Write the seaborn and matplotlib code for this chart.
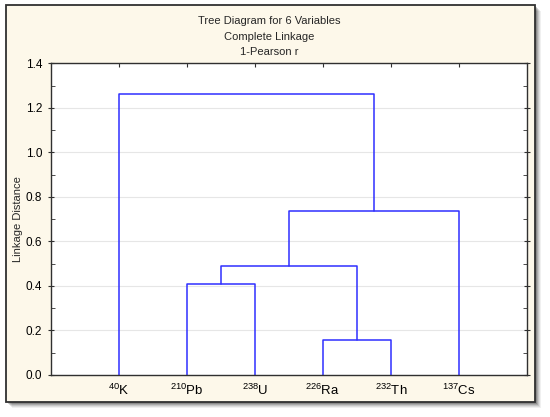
import numpy as np
import pandas as pd
import seaborn as sns
import matplotlib.pyplot as plt
from matplotlib.patches import Rectangle
from matplotlib.ticker import MultipleLocator, FormatStrFormatter

# leaves in the order shown on the x axis
leaf_labels = [r'$^{\mathregular{40}}$K', r'$^{\mathregular{210}}$Pb', r'$^{\mathregular{238}}$U',
               r'$^{\mathregular{226}}$Ra', r'$^{\mathregular{232}}$Th', r'$^{\mathregular{137}}$Cs']

# merge steps (scipy style ids: leaves 0-5, new clusters from 6)
merge_a = [3, 1, 7, 8, 0]
merge_b = [4, 2, 6, 5, 9]
merge_h = [0.157, 0.408, 0.488, 0.738, 1.263]

sns.set_style("white")
plt.rcParams['font.family'] = ['Liberation Sans', 'DejaVu Sans']
plt.rcParams['mathtext.fontset'] = 'custom'
plt.rcParams['mathtext.rm'] = 'Liberation Sans'

# positions/heights of every cluster
xpos = {i: i + 1.0 for i in range(len(leaf_labels))}
hgt = {i: 0.0 for i in range(len(leaf_labels))}
rows = []
for k, (a, b, h) in enumerate(zip(merge_a, merge_b, merge_h)):
    new_id = len(leaf_labels) + k
    for px, py in [(xpos[a], hgt[a]), (xpos[a], h), (xpos[b], h), (xpos[b], hgt[b])]:
        rows.append({'link': k, 'x': px, 'y': py})
    xpos[new_id] = (xpos[a] + xpos[b]) / 2
    hgt[new_id] = h
df = pd.DataFrame(rows)

fig = plt.figure(figsize=(5.5, 4.17), dpi=100, facecolor='white')

# frame with drop shadow
W, H = 550, 417
fx0, fy0, fx1, fy1 = 6, 5, 535, 402
for off, al in [(6, 0.06), (5, 0.08), (4, 0.1), (3, 0.14), (2, 0.18)]:
    fig.patches.append(Rectangle(((fx0 + off) / W, (H - fy1 - off) / H), (fx1 - fx0) / W, (fy1 - fy0) / H,
                                 transform=fig.transFigure, facecolor='black', alpha=al,
                                 edgecolor='none', zorder=0))
fig.patches.append(Rectangle((fx0 / W, (H - fy1) / H), (fx1 - fx0) / W, (fy1 - fy0) / H,
                             transform=fig.transFigure, facecolor='#fdf8ea',
                             edgecolor='#303030', linewidth=1.3, zorder=1))

ax = fig.add_axes([50.7 / W, (H - 374.8) / H, (527 - 50.7) / W, (374.8 - 63.3) / H])
ax.set_facecolor('white')
ax.set_zorder(2)

sns.lineplot(data=df, x='x', y='y', units='link', estimator=None, sort=False,
             color='#2f2fff', linewidth=1.1, ax=ax, legend=False)

ax.set_xlim(0, 7)
ax.set_ylim(0, 1.4)
ax.yaxis.set_major_locator(MultipleLocator(0.2))
ax.yaxis.set_minor_locator(MultipleLocator(0.1))
ax.yaxis.set_major_formatter(FormatStrFormatter('%.1f'))
ax.set_xticks(range(1, len(leaf_labels) + 1))
ax.set_xticklabels(leaf_labels, fontsize=9.5)
ax.grid(axis='y', which='major', color='#e6e6e6', linewidth=0.8)
ax.set_axisbelow(True)
for s in ax.spines.values():
    s.set_color('#303030')
    s.set_linewidth(1.0)

ax.tick_params(axis='x', bottom=False, top=True, direction='in', length=3,
               labelbottom=True, labeltop=False, pad=6, colors='#303030', labelcolor='black')
ax.tick_params(axis='y', which='both', left=True, right=True, direction='in', length=3,
               labelsize=8.5, colors='#303030', labelcolor='black')
ax.tick_params(axis='y', which='major', direction='inout', length=5)
ax.set_xlabel('')
ax.set_ylabel('Linkage Distance', fontsize=8, labelpad=2)

fig.text(0.49, 1 - 21 / H, 'Tree Diagram for 6 Variables', ha='center', va='center', fontsize=8)
fig.text(0.49, 1 - 36.5 / H, 'Complete Linkage', ha='center', va='center', fontsize=8)
fig.text(0.49, 1 - 52 / H, '1-Pearson r', ha='center', va='center', fontsize=8)

fig.savefig('out.png', dpi=100, facecolor='white')
